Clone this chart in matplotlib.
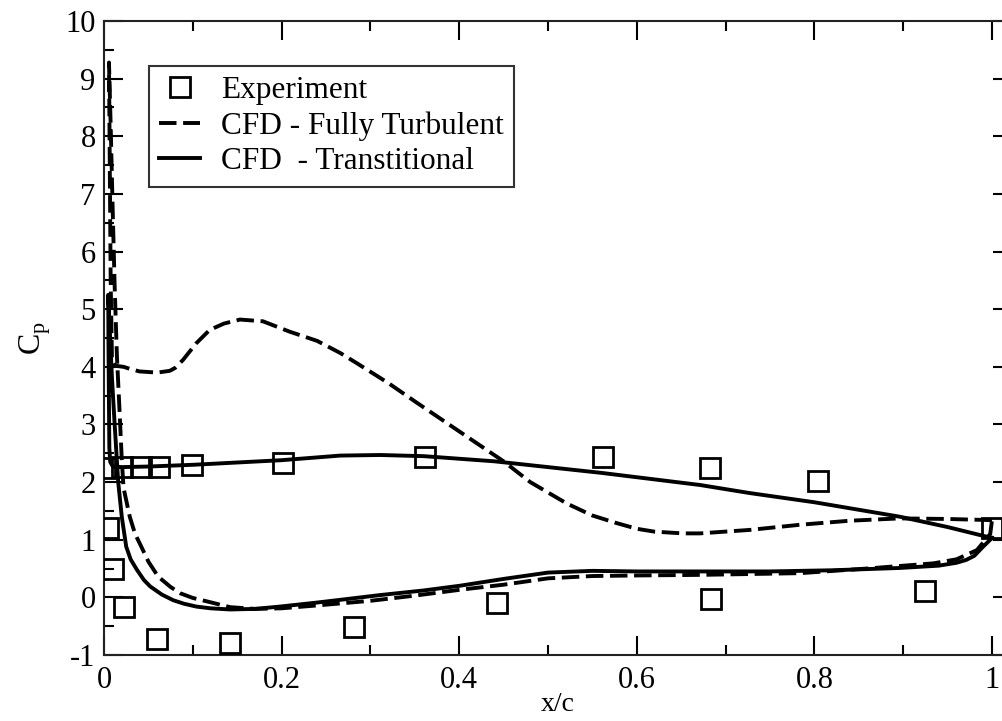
import numpy as np
import matplotlib
matplotlib.use("Agg")
import matplotlib.pyplot as plt
from matplotlib.ticker import MultipleLocator

plt.rcParams['font.family'] = 'Liberation Serif'
plt.rcParams['mathtext.fontset'] = 'custom'
plt.rcParams['mathtext.rm'] = 'Liberation Serif'
plt.rcParams['axes.unicode_minus'] = False

## == experiment (squares) ==
exp_x  = [0.001, 0.020, 0.042, 0.062, 0.099, 0.202, 0.361, 0.562, 0.682, 0.804, 1.000,
          0.004, 0.0105, 0.022, 0.060, 0.142, 0.281, 0.443, 0.684, 0.925]
exp_cp = [2.25, 2.27, 2.27, 2.27, 2.30, 2.33, 2.43, 2.43, 2.24, 2.02, 1.20,
          1.20, 0.50, -0.16, -0.73, -0.80, -0.51, -0.10, -0.03, 0.11]

## == CFD fully turbulent (dashed), TE -> LE -> TE ==
turb_x  = [1.0, 0.95, 0.896, 0.84, 0.784, 0.727, 0.671, 0.652, 0.62, 0.6, 0.577, 0.55,
           0.521, 0.48, 0.45, 0.4, 0.352, 0.32, 0.285, 0.266, 0.24, 0.209, 0.179, 0.153,
           0.135, 0.119, 0.104, 0.089, 0.08, 0.074, 0.06, 0.04, 0.03, 0.022, 0.012,
           0.009, 0.0075, 0.0065, 0.0056, 0.0075, 0.0095, 0.012, 0.0145, 0.017, 0.02,
           0.022, 0.029, 0.035, 0.042, 0.05, 0.061, 0.075, 0.086, 0.1, 0.116, 0.142,
           0.17, 0.2, 0.24, 0.3, 0.35, 0.4, 0.45, 0.5, 0.55, 0.6, 0.671, 0.784, 0.859,
           0.934, 0.96, 0.983, 0.998, 1.0]
turb_cp = [1.34, 1.36, 1.37, 1.33, 1.26, 1.17, 1.11, 1.11, 1.14, 1.19, 1.29, 1.42,
           1.63, 2.0, 2.36, 2.88, 3.38, 3.72, 4.06, 4.24, 4.45, 4.61, 4.79, 4.82,
           4.75, 4.64, 4.41, 4.12, 3.98, 3.93, 3.90, 3.92, 3.96, 4.0, 4.02,
           4.1, 5.5, 7.5, 9.28, 8.2, 6.9, 5.4, 4.2, 3.4, 2.4,
           1.9, 1.4, 1.1, 0.88, 0.62, 0.36, 0.18, 0.07, -0.01, -0.07, -0.17,
           -0.2, -0.19, -0.14, -0.06, 0.03, 0.13, 0.22, 0.33, 0.37, 0.38, 0.39, 0.42, 0.5,
           0.59, 0.66, 0.82, 1.1, 1.34]

## == CFD transitional (solid), TE -> LE -> TE ==
tran_x  = [1.0, 0.95, 0.896, 0.8, 0.727, 0.671, 0.56, 0.44, 0.36, 0.311, 0.266, 0.2,
           0.1, 0.05, 0.02, 0.01, 0.007, 0.006, 0.0055, 0.005, 0.0048, 0.006, 0.009,
           0.012, 0.014, 0.016, 0.020, 0.025, 0.030, 0.037, 0.045, 0.052, 0.065, 0.078,
           0.09, 0.104, 0.12, 0.142, 0.17, 0.198, 0.24, 0.273, 0.311, 0.36, 0.4, 0.45,
           0.5, 0.55, 0.6, 0.671, 0.75, 0.82, 0.896, 0.94, 0.96, 0.971, 0.98, 0.99, 1.0]
tran_cp = [1.03, 1.22, 1.40, 1.65, 1.81, 1.95, 2.16, 2.36, 2.45, 2.47, 2.46, 2.38,
           2.30, 2.27, 2.26, 2.27, 2.35, 2.6, 3.5, 4.5, 5.25, 4.8, 3.8,
           3.0, 2.5, 2.0, 1.40, 0.88, 0.66, 0.48, 0.30, 0.19, 0.05, -0.05,
           -0.11, -0.16, -0.19, -0.21, -0.20, -0.16, -0.09, -0.03, 0.04, 0.12, 0.2, 0.32,
           0.43, 0.46, 0.45, 0.45, 0.45, 0.47, 0.51, 0.55, 0.6, 0.65, 0.72, 0.88, 1.03]

legend_labels = ['Experiment', 'CFD - Fully Turbulent', 'CFD  - Transtitional']

fig = plt.figure(figsize=(10.03, 7.21), dpi=100)
ax = fig.add_axes([104/1003, 66/721, 908/1003, 634/721])

ax.plot(exp_x, exp_cp, ls='none', marker='s', ms=14.5, mfc='none', mec='black',
        mew=2.0, color='black', label=legend_labels[0], zorder=3)
ax.plot(turb_x, turb_cp, color='black', lw=2.8, dashes=(4.5, 1.7),
        dash_capstyle='butt', label=legend_labels[1])
ax.plot(tran_x, tran_cp, color='black', lw=2.8, label=legend_labels[2])

ax.set_xlim(0, 908/888)
ax.set_ylim(-1, 10)
ax.xaxis.set_major_locator(MultipleLocator(0.2))
ax.xaxis.set_minor_locator(MultipleLocator(0.1))
ax.yaxis.set_major_locator(MultipleLocator(1))
ax.yaxis.set_minor_locator(MultipleLocator(0.5))
ax.set_xticks([0, 0.2, 0.4, 0.6, 0.8, 1.0])
ax.set_xticklabels(['0', '0.2', '0.4', '0.6', '0.8', '1'])
ax.tick_params(which='both', direction='in', top=True, right=True, width=1.5,
               labelsize=22, color='black')
ax.tick_params(which='major', length=13.5)
ax.tick_params(which='minor', length=7)
ax.tick_params(axis='x', pad=8)
ax.tick_params(axis='y', pad=6)
for s in ax.spines.values():
    s.set_linewidth(1.5)
    s.set_color('#222222')

ax.set_xlabel('x/c', fontsize=20)
ax.set_ylabel(r'C$_\mathrm{p}$', fontsize=23)
ax.xaxis.set_label_coords(0.5, -0.089)
ax.xaxis.label.set_va('baseline')
ax.yaxis.set_label_coords(-0.056, 0.5)

leg = ax.legend(loc='upper left', bbox_to_anchor=(45/908, 1 - 45/634), fontsize=22.5,
                frameon=True, fancybox=False, borderpad=0.33, labelspacing=0.2,
                handlelength=1.3, handletextpad=0.68, borderaxespad=0)
leg.get_frame().set_edgecolor('black')
leg.get_frame().set_linewidth(1.5)

fig.savefig('out.png', dpi=100)
